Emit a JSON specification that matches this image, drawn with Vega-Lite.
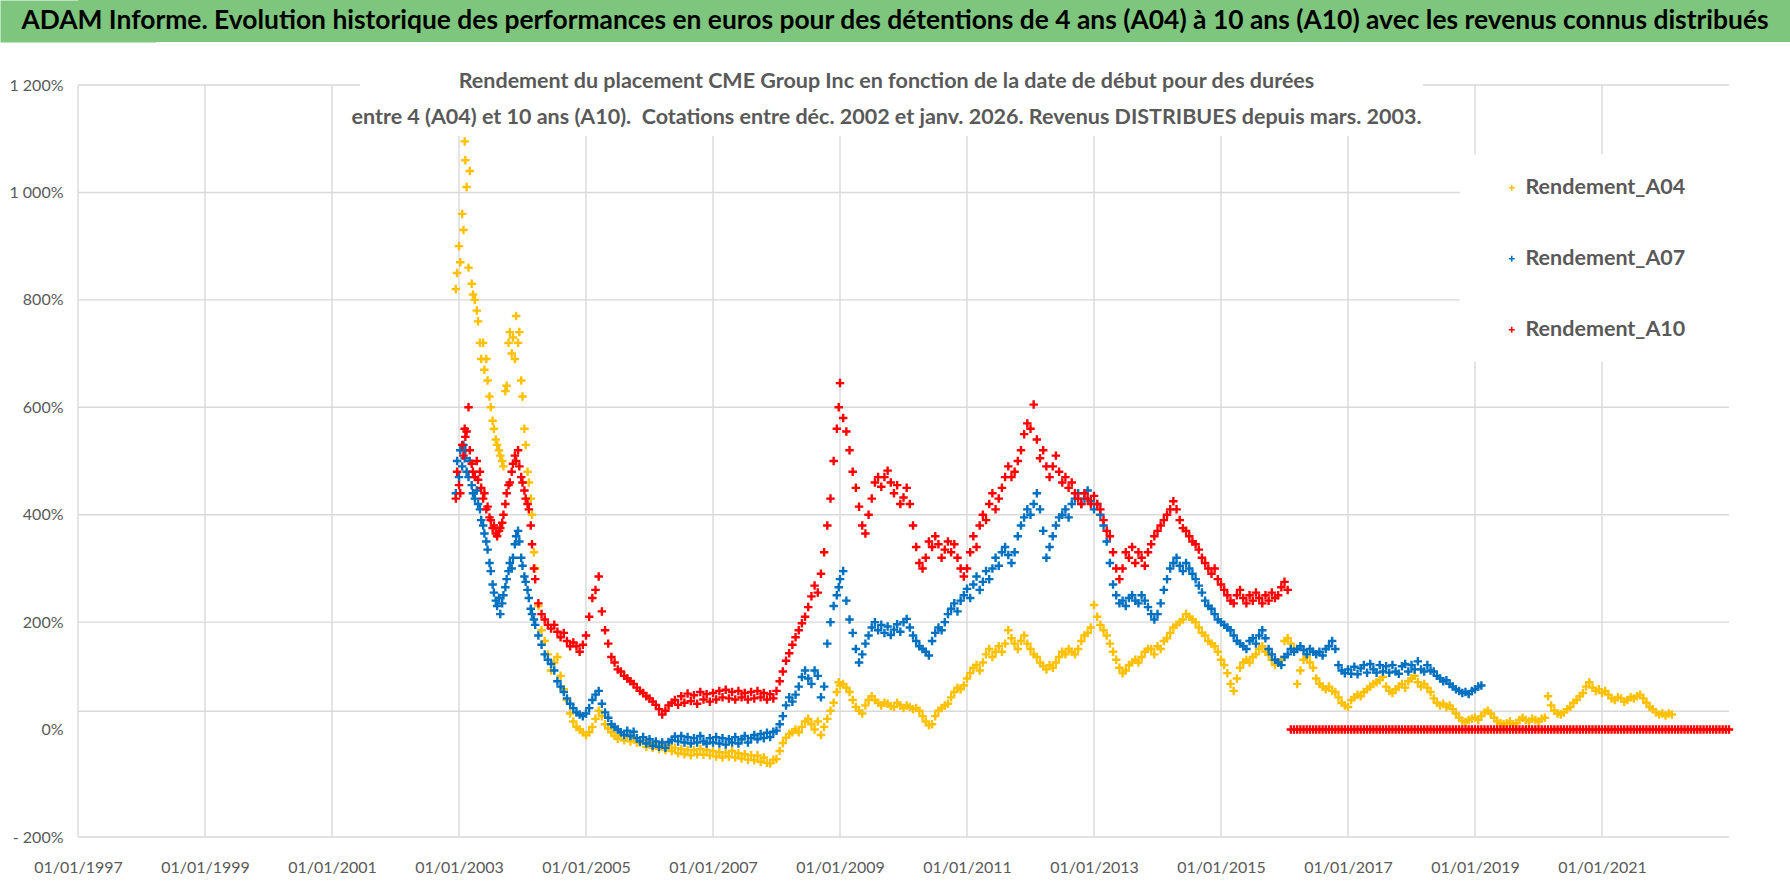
{
  "$schema": "https://vega.github.io/schema/vega-lite/v6.json",
  "background": "white",
  "padding": 0,
  "spacing": 28,
  "config": {"view": {"stroke": null}, "font": "Lato"},
  "datasets": {
    "grille": [
      {"annee": 1997, "annee2": 2001.44, "rendement": 1200, "rendement2": 1200},
      {"annee": 2018.18, "annee2": 2023, "rendement": 1200, "rendement2": 1200},
      {"annee": 1997, "annee2": 2018.76, "rendement": 1000, "rendement2": 1000},
      {"annee": 1997, "annee2": 2018.76, "rendement": 800, "rendement2": 800},
      {"annee": 1997, "annee2": 2023, "rendement": 600, "rendement2": 600},
      {"annee": 1997, "annee2": 2023, "rendement": 400, "rendement2": 400},
      {"annee": 1997, "annee2": 2023, "rendement": 200, "rendement2": 200},
      {"annee": 1997, "annee2": 2023, "rendement": 34, "rendement2": 34},
      {"annee": 1997, "annee2": 2023, "rendement": -200, "rendement2": -200},
      {"annee": 1997, "annee2": 1997, "rendement": -200, "rendement2": 1200},
      {"annee": 1999, "annee2": 1999, "rendement": -200, "rendement2": 1200},
      {"annee": 2001, "annee2": 2001, "rendement": -200, "rendement2": 1200},
      {"annee": 2003, "annee2": 2003, "rendement": -200, "rendement2": 1105},
      {"annee": 2005, "annee2": 2005, "rendement": -200, "rendement2": 1105},
      {"annee": 2007, "annee2": 2007, "rendement": -200, "rendement2": 1105},
      {"annee": 2009, "annee2": 2009, "rendement": -200, "rendement2": 1105},
      {"annee": 2011, "annee2": 2011, "rendement": -200, "rendement2": 1105},
      {"annee": 2013, "annee2": 2013, "rendement": -200, "rendement2": 1105},
      {"annee": 2015, "annee2": 2015, "rendement": -200, "rendement2": 1105},
      {"annee": 2017, "annee2": 2017, "rendement": -200, "rendement2": 1105},
      {"annee": 2019, "annee2": 2019, "rendement": -200, "rendement2": 685},
      {"annee": 2019, "annee2": 2019, "rendement": 1071, "rendement2": 1200},
      {"annee": 2021, "annee2": 2021, "rendement": -200, "rendement2": 685},
      {"annee": 2021, "annee2": 2021, "rendement": 1071, "rendement2": 1200}
    ],
    "rendements": [
      {"annee": 2002.95, "A04": 820, "A07": 440, "A10": 430},
      {"annee": 2002.97, "A04": 850, "A07": 500, "A10": 480},
      {"annee": 2003.00, "A04": 900, "A07": 470, "A10": 455},
      {"annee": 2003.02, "A04": 870, "A07": 520, "A10": 440},
      {"annee": 2003.05, "A04": 960, "A07": 490, "A10": 530},
      {"annee": 2003.07, "A04": 930, "A07": 530, "A10": 510},
      {"annee": 2003.09, "A04": 1095, "A07": 505, "A10": 560},
      {"annee": 2003.10, "A04": 1060, "A07": 520, "A10": 545},
      {"annee": 2003.12, "A04": 1010, "A07": 480, "A10": 555},
      {"annee": 2003.15, "A04": 860, "A07": 470, "A10": 600},
      {"annee": 2003.17, "A04": 1040, "A07": 500, "A10": 520},
      {"annee": 2003.20, "A04": 830, "A07": 455, "A10": 495},
      {"annee": 2003.22, "A04": 810, "A07": 440, "A10": 480},
      {"annee": 2003.25, "A04": 800, "A07": 430, "A10": 470},
      {"annee": 2003.28, "A04": 780, "A07": 445, "A10": 500},
      {"annee": 2003.30, "A04": 760, "A07": 420, "A10": 465},
      {"annee": 2003.33, "A04": 720, "A07": 410, "A10": 480},
      {"annee": 2003.35, "A04": 690, "A07": 390, "A10": 450},
      {"annee": 2003.38, "A04": 720, "A07": 380, "A10": 430},
      {"annee": 2003.40, "A04": 670, "A07": 365, "A10": 440},
      {"annee": 2003.43, "A04": 690, "A07": 350, "A10": 410},
      {"annee": 2003.45, "A04": 650, "A07": 335, "A10": 415},
      {"annee": 2003.48, "A04": 620, "A07": 310, "A10": 395},
      {"annee": 2003.50, "A04": 600, "A07": 295, "A10": 390},
      {"annee": 2003.53, "A04": 575, "A07": 270, "A10": 375},
      {"annee": 2003.55, "A04": 560, "A07": 255, "A10": 380},
      {"annee": 2003.58, "A04": 540, "A07": 240, "A10": 365},
      {"annee": 2003.60, "A04": 530, "A07": 230, "A10": 360},
      {"annee": 2003.63, "A04": 520, "A07": 245, "A10": 370},
      {"annee": 2003.65, "A04": 510, "A07": 215, "A10": 375},
      {"annee": 2003.68, "A04": 500, "A07": 235, "A10": 385},
      {"annee": 2003.70, "A04": 490, "A07": 250, "A10": 400},
      {"annee": 2003.73, "A04": 630, "A07": 265, "A10": 420},
      {"annee": 2003.75, "A04": 640, "A07": 280, "A10": 440},
      {"annee": 2003.78, "A04": 720, "A07": 295, "A10": 455},
      {"annee": 2003.80, "A04": 740, "A07": 310, "A10": 460},
      {"annee": 2003.83, "A04": 700, "A07": 300, "A10": 480},
      {"annee": 2003.85, "A04": 730, "A07": 320, "A10": 495},
      {"annee": 2003.88, "A04": 690, "A07": 345, "A10": 510},
      {"annee": 2003.90, "A04": 770, "A07": 360, "A10": 500},
      {"annee": 2003.93, "A04": 720, "A07": 370, "A10": 520},
      {"annee": 2003.95, "A04": 740, "A07": 350, "A10": 490},
      {"annee": 2003.98, "A04": 650, "A07": 320, "A10": 470},
      {"annee": 2004.00, "A04": 620, "A07": 305, "A10": 460},
      {"annee": 2004.03, "A04": 560, "A07": 285, "A10": 445},
      {"annee": 2004.05, "A04": 530, "A07": 275, "A10": 430},
      {"annee": 2004.08, "A04": 480, "A07": 260, "A10": 420},
      {"annee": 2004.10, "A04": 460, "A07": 245, "A10": 410},
      {"annee": 2004.13, "A04": 430, "A07": 225, "A10": 380},
      {"annee": 2004.15, "A04": 400, "A07": 215, "A10": 345},
      {"annee": 2004.18, "A04": 330, "A07": 205, "A10": 300},
      {"annee": 2004.20, "A04": 300, "A07": 195, "A10": 280},
      {"annee": 2004.25, "A04": 230, "A07": 175, "A10": 235},
      {"annee": 2004.30, "A04": 185, "A07": 158, "A10": 215},
      {"annee": 2004.35, "A04": 165, "A07": 140, "A10": 205},
      {"annee": 2004.40, "A04": 140, "A07": 130, "A10": 195},
      {"annee": 2004.45, "A04": 110, "A07": 122, "A10": 188},
      {"annee": 2004.50, "A04": 125, "A07": 110, "A10": 195},
      {"annee": 2004.55, "A04": 135, "A07": 90, "A10": 182},
      {"annee": 2004.60, "A04": 100, "A07": 80, "A10": 172},
      {"annee": 2004.65, "A04": 75, "A07": 70, "A10": 180},
      {"annee": 2004.70, "A04": 55, "A07": 58, "A10": 165},
      {"annee": 2004.75, "A04": 30, "A07": 48, "A10": 155},
      {"annee": 2004.80, "A04": 15, "A07": 40, "A10": 162},
      {"annee": 2004.85, "A04": 5, "A07": 32, "A10": 155},
      {"annee": 2004.90, "A04": 0, "A07": 28, "A10": 145},
      {"annee": 2004.95, "A04": -5, "A07": 25, "A10": 158},
      {"annee": 2005.00, "A04": -10, "A07": 30, "A10": 175},
      {"annee": 2005.05, "A04": -5, "A07": 40, "A10": 210},
      {"annee": 2005.10, "A04": 5, "A07": 55, "A10": 245},
      {"annee": 2005.15, "A04": 20, "A07": 65, "A10": 260},
      {"annee": 2005.20, "A04": 35, "A07": 72, "A10": 285},
      {"annee": 2005.25, "A04": 25, "A07": 48, "A10": 220},
      {"annee": 2005.30, "A04": 10, "A07": 32, "A10": 185},
      {"annee": 2005.35, "A04": 2, "A07": 22, "A10": 160},
      {"annee": 2005.40, "A04": -5, "A07": 10, "A10": 135},
      {"annee": 2005.45, "A04": -12, "A07": 5, "A10": 125},
      {"annee": 2005.50, "A04": -17, "A07": 0, "A10": 112},
      {"annee": 2005.55, "A04": -10, "A07": -5, "A10": 108},
      {"annee": 2005.60, "A04": -20, "A07": -10, "A10": 100},
      {"annee": 2005.65, "A04": -12, "A07": -2, "A10": 95},
      {"annee": 2005.70, "A04": -22, "A07": -12, "A10": 90},
      {"annee": 2005.75, "A04": -14, "A07": -4, "A10": 85},
      {"annee": 2005.80, "A04": -24, "A07": -16, "A10": 78},
      {"annee": 2005.85, "A04": -24, "A07": -22, "A10": 72},
      {"annee": 2005.90, "A04": -20, "A07": -14, "A10": 68},
      {"annee": 2005.95, "A04": -32, "A07": -26, "A10": 62},
      {"annee": 2006.00, "A04": -24, "A07": -18, "A10": 58},
      {"annee": 2006.05, "A04": -34, "A07": -30, "A10": 52},
      {"annee": 2006.10, "A04": -26, "A07": -22, "A10": 46},
      {"annee": 2006.15, "A04": -36, "A07": -32, "A10": 38},
      {"annee": 2006.20, "A04": -28, "A07": -24, "A10": 28},
      {"annee": 2006.25, "A04": -38, "A07": -34, "A10": 35},
      {"annee": 2006.30, "A04": -30, "A07": -23, "A10": 45},
      {"annee": 2006.35, "A04": -40, "A07": -20, "A10": 50},
      {"annee": 2006.40, "A04": -34, "A07": -13, "A10": 55},
      {"annee": 2006.45, "A04": -44, "A07": -22, "A10": 46},
      {"annee": 2006.50, "A04": -36, "A07": -12, "A10": 62},
      {"annee": 2006.55, "A04": -46, "A07": -24, "A10": 50},
      {"annee": 2006.60, "A04": -38, "A07": -14, "A10": 67},
      {"annee": 2006.65, "A04": -48, "A07": -26, "A10": 53},
      {"annee": 2006.70, "A04": -38, "A07": -16, "A10": 64},
      {"annee": 2006.75, "A04": -46, "A07": -24, "A10": 48},
      {"annee": 2006.80, "A04": -36, "A07": -12, "A10": 70},
      {"annee": 2006.85, "A04": -47, "A07": -22, "A10": 56},
      {"annee": 2006.90, "A04": -38, "A07": -26, "A10": 66},
      {"annee": 2006.95, "A04": -48, "A07": -16, "A10": 52},
      {"annee": 2007.00, "A04": -40, "A07": -24, "A10": 68},
      {"annee": 2007.05, "A04": -50, "A07": -14, "A10": 56},
      {"annee": 2007.10, "A04": -42, "A07": -26, "A10": 72},
      {"annee": 2007.15, "A04": -52, "A07": -16, "A10": 60},
      {"annee": 2007.20, "A04": -43, "A07": -28, "A10": 74},
      {"annee": 2007.25, "A04": -50, "A07": -18, "A10": 58},
      {"annee": 2007.30, "A04": -40, "A07": -24, "A10": 70},
      {"annee": 2007.35, "A04": -52, "A07": -14, "A10": 56},
      {"annee": 2007.40, "A04": -44, "A07": -26, "A10": 72},
      {"annee": 2007.45, "A04": -54, "A07": -18, "A10": 60},
      {"annee": 2007.50, "A04": -46, "A07": -12, "A10": 68},
      {"annee": 2007.55, "A04": -56, "A07": -24, "A10": 56},
      {"annee": 2007.60, "A04": -48, "A07": -16, "A10": 70},
      {"annee": 2007.65, "A04": -57, "A07": -10, "A10": 58},
      {"annee": 2007.70, "A04": -48, "A07": -18, "A10": 72},
      {"annee": 2007.75, "A04": -60, "A07": -8, "A10": 60},
      {"annee": 2007.80, "A04": -52, "A07": -16, "A10": 68},
      {"annee": 2007.85, "A04": -62, "A07": -6, "A10": 56},
      {"annee": 2007.90, "A04": -63, "A07": -14, "A10": 66},
      {"annee": 2007.95, "A04": -56, "A07": -4, "A10": 58},
      {"annee": 2008.00, "A04": -55, "A07": -2, "A10": 72},
      {"annee": 2008.05, "A04": -40, "A07": 10, "A10": 90},
      {"annee": 2008.10, "A04": -25, "A07": 25, "A10": 108},
      {"annee": 2008.15, "A04": -15, "A07": 45, "A10": 128},
      {"annee": 2008.20, "A04": -8, "A07": 60, "A10": 142},
      {"annee": 2008.25, "A04": -5, "A07": 52, "A10": 158},
      {"annee": 2008.30, "A04": 0, "A07": 65, "A10": 172},
      {"annee": 2008.35, "A04": -5, "A07": 80, "A10": 185},
      {"annee": 2008.40, "A04": 5, "A07": 98, "A10": 198},
      {"annee": 2008.45, "A04": 15, "A07": 110, "A10": 210},
      {"annee": 2008.50, "A04": 20, "A07": 95, "A10": 228},
      {"annee": 2008.55, "A04": 10, "A07": 85, "A10": 248},
      {"annee": 2008.60, "A04": 0, "A07": 110, "A10": 268},
      {"annee": 2008.65, "A04": 15, "A07": 100, "A10": 255},
      {"annee": 2008.70, "A04": -10, "A07": 60, "A10": 290},
      {"annee": 2008.75, "A04": 5, "A07": 80, "A10": 330},
      {"annee": 2008.80, "A04": 20, "A07": 160, "A10": 380},
      {"annee": 2008.85, "A04": 35, "A07": 200, "A10": 430},
      {"annee": 2008.90, "A04": 50, "A07": 230, "A10": 500},
      {"annee": 2008.95, "A04": 70, "A07": 250, "A10": 560},
      {"annee": 2008.98, "A04": 88, "A07": 265, "A10": 600},
      {"annee": 2009.00, "A04": 82, "A07": 280, "A10": 645},
      {"annee": 2009.05, "A04": 85, "A07": 295, "A10": 580},
      {"annee": 2009.10, "A04": 78, "A07": 240, "A10": 555},
      {"annee": 2009.15, "A04": 70, "A07": 205, "A10": 520},
      {"annee": 2009.20, "A04": 55, "A07": 180, "A10": 480},
      {"annee": 2009.25, "A04": 42, "A07": 150, "A10": 450},
      {"annee": 2009.30, "A04": 35, "A07": 125, "A10": 415},
      {"annee": 2009.35, "A04": 30, "A07": 140, "A10": 380},
      {"annee": 2009.40, "A04": 45, "A07": 160, "A10": 365},
      {"annee": 2009.45, "A04": 55, "A07": 175, "A10": 400},
      {"annee": 2009.50, "A04": 62, "A07": 190, "A10": 430},
      {"annee": 2009.55, "A04": 55, "A07": 200, "A10": 460},
      {"annee": 2009.60, "A04": 50, "A07": 185, "A10": 470},
      {"annee": 2009.65, "A04": 45, "A07": 195, "A10": 452},
      {"annee": 2009.70, "A04": 50, "A07": 180, "A10": 470},
      {"annee": 2009.75, "A04": 48, "A07": 192, "A10": 482},
      {"annee": 2009.80, "A04": 44, "A07": 176, "A10": 460},
      {"annee": 2009.85, "A04": 42, "A07": 186, "A10": 440},
      {"annee": 2009.90, "A04": 50, "A07": 196, "A10": 455},
      {"annee": 2009.95, "A04": 45, "A07": 182, "A10": 420},
      {"annee": 2010.00, "A04": 40, "A07": 200, "A10": 432},
      {"annee": 2010.05, "A04": 45, "A07": 206, "A10": 450},
      {"annee": 2010.10, "A04": 42, "A07": 190, "A10": 420},
      {"annee": 2010.15, "A04": 38, "A07": 175, "A10": 380},
      {"annee": 2010.20, "A04": 40, "A07": 165, "A10": 340},
      {"annee": 2010.25, "A04": 35, "A07": 155, "A10": 310},
      {"annee": 2010.30, "A04": 25, "A07": 150, "A10": 300},
      {"annee": 2010.35, "A04": 15, "A07": 145, "A10": 320},
      {"annee": 2010.40, "A04": 8, "A07": 138, "A10": 350},
      {"annee": 2010.45, "A04": 10, "A07": 165, "A10": 340},
      {"annee": 2010.50, "A04": 25, "A07": 180, "A10": 360},
      {"annee": 2010.55, "A04": 35, "A07": 190, "A10": 345},
      {"annee": 2010.60, "A04": 40, "A07": 185, "A10": 320},
      {"annee": 2010.65, "A04": 45, "A07": 200, "A10": 335},
      {"annee": 2010.70, "A04": 48, "A07": 215, "A10": 350},
      {"annee": 2010.75, "A04": 60, "A07": 225, "A10": 330},
      {"annee": 2010.80, "A04": 70, "A07": 235, "A10": 345},
      {"annee": 2010.85, "A04": 78, "A07": 220, "A10": 320},
      {"annee": 2010.90, "A04": 75, "A07": 240, "A10": 300},
      {"annee": 2010.95, "A04": 82, "A07": 250, "A10": 285},
      {"annee": 2011.00, "A04": 95, "A07": 262, "A10": 300},
      {"annee": 2011.05, "A04": 105, "A07": 245, "A10": 330},
      {"annee": 2011.10, "A04": 115, "A07": 270, "A10": 360},
      {"annee": 2011.15, "A04": 120, "A07": 285, "A10": 340},
      {"annee": 2011.20, "A04": 110, "A07": 260, "A10": 380},
      {"annee": 2011.25, "A04": 125, "A07": 275, "A10": 400},
      {"annee": 2011.30, "A04": 140, "A07": 295, "A10": 390},
      {"annee": 2011.35, "A04": 150, "A07": 280, "A10": 420},
      {"annee": 2011.40, "A04": 135, "A07": 300, "A10": 440},
      {"annee": 2011.45, "A04": 145, "A07": 320, "A10": 410},
      {"annee": 2011.50, "A04": 155, "A07": 305, "A10": 430},
      {"annee": 2011.55, "A04": 145, "A07": 330, "A10": 450},
      {"annee": 2011.60, "A04": 160, "A07": 340, "A10": 470},
      {"annee": 2011.65, "A04": 185, "A07": 325, "A10": 490},
      {"annee": 2011.70, "A04": 170, "A07": 310, "A10": 470},
      {"annee": 2011.75, "A04": 160, "A07": 330, "A10": 480},
      {"annee": 2011.80, "A04": 150, "A07": 360, "A10": 500},
      {"annee": 2011.85, "A04": 165, "A07": 380, "A10": 520},
      {"annee": 2011.90, "A04": 175, "A07": 395, "A10": 550},
      {"annee": 2011.95, "A04": 160, "A07": 410, "A10": 570},
      {"annee": 2012.00, "A04": 150, "A07": 400, "A10": 560},
      {"annee": 2012.05, "A04": 140, "A07": 420, "A10": 605},
      {"annee": 2012.10, "A04": 135, "A07": 440, "A10": 540},
      {"annee": 2012.15, "A04": 125, "A07": 410, "A10": 505},
      {"annee": 2012.20, "A04": 118, "A07": 370, "A10": 520},
      {"annee": 2012.25, "A04": 112, "A07": 320, "A10": 490},
      {"annee": 2012.30, "A04": 120, "A07": 340, "A10": 470},
      {"annee": 2012.35, "A04": 115, "A07": 360, "A10": 490},
      {"annee": 2012.40, "A04": 125, "A07": 380, "A10": 510},
      {"annee": 2012.45, "A04": 135, "A07": 395, "A10": 480},
      {"annee": 2012.50, "A04": 145, "A07": 400, "A10": 460},
      {"annee": 2012.55, "A04": 140, "A07": 410, "A10": 470},
      {"annee": 2012.60, "A04": 150, "A07": 395, "A10": 450},
      {"annee": 2012.65, "A04": 145, "A07": 420, "A10": 460},
      {"annee": 2012.70, "A04": 140, "A07": 430, "A10": 440},
      {"annee": 2012.75, "A04": 150, "A07": 440, "A10": 430},
      {"annee": 2012.80, "A04": 165, "A07": 420, "A10": 420},
      {"annee": 2012.85, "A04": 175, "A07": 430, "A10": 440},
      {"annee": 2012.90, "A04": 180, "A07": 445, "A10": 430},
      {"annee": 2012.95, "A04": 190, "A07": 425, "A10": 420},
      {"annee": 2013.00, "A04": 232, "A07": 410, "A10": 435},
      {"annee": 2013.05, "A04": 210, "A07": 420, "A10": 420},
      {"annee": 2013.10, "A04": 195, "A07": 400, "A10": 410},
      {"annee": 2013.15, "A04": 185, "A07": 380, "A10": 390},
      {"annee": 2013.20, "A04": 175, "A07": 350, "A10": 370},
      {"annee": 2013.25, "A04": 160, "A07": 310, "A10": 360},
      {"annee": 2013.30, "A04": 145, "A07": 270, "A10": 330},
      {"annee": 2013.35, "A04": 130, "A07": 250, "A10": 300},
      {"annee": 2013.40, "A04": 115, "A07": 235, "A10": 280},
      {"annee": 2013.45, "A04": 105, "A07": 240, "A10": 300},
      {"annee": 2013.50, "A04": 110, "A07": 230, "A10": 330},
      {"annee": 2013.55, "A04": 120, "A07": 245, "A10": 320},
      {"annee": 2013.60, "A04": 125, "A07": 250, "A10": 340},
      {"annee": 2013.65, "A04": 130, "A07": 240, "A10": 310},
      {"annee": 2013.70, "A04": 125, "A07": 235, "A10": 330},
      {"annee": 2013.75, "A04": 135, "A07": 250, "A10": 320},
      {"annee": 2013.80, "A04": 145, "A07": 240, "A10": 305},
      {"annee": 2013.85, "A04": 150, "A07": 228, "A10": 330},
      {"annee": 2013.90, "A04": 150, "A07": 215, "A10": 345},
      {"annee": 2013.95, "A04": 140, "A07": 205, "A10": 360},
      {"annee": 2014.00, "A04": 155, "A07": 215, "A10": 370},
      {"annee": 2014.05, "A04": 150, "A07": 235, "A10": 380},
      {"annee": 2014.10, "A04": 165, "A07": 260, "A10": 390},
      {"annee": 2014.15, "A04": 170, "A07": 280, "A10": 400},
      {"annee": 2014.20, "A04": 180, "A07": 300, "A10": 410},
      {"annee": 2014.25, "A04": 190, "A07": 310, "A10": 425},
      {"annee": 2014.30, "A04": 195, "A07": 320, "A10": 410},
      {"annee": 2014.35, "A04": 200, "A07": 305, "A10": 390},
      {"annee": 2014.40, "A04": 205, "A07": 295, "A10": 375},
      {"annee": 2014.45, "A04": 215, "A07": 310, "A10": 370},
      {"annee": 2014.50, "A04": 210, "A07": 300, "A10": 360},
      {"annee": 2014.55, "A04": 205, "A07": 290, "A10": 350},
      {"annee": 2014.60, "A04": 200, "A07": 280, "A10": 345},
      {"annee": 2014.65, "A04": 190, "A07": 268, "A10": 335},
      {"annee": 2014.70, "A04": 180, "A07": 255, "A10": 320},
      {"annee": 2014.75, "A04": 175, "A07": 240, "A10": 310},
      {"annee": 2014.80, "A04": 165, "A07": 230, "A10": 300},
      {"annee": 2014.85, "A04": 160, "A07": 225, "A10": 290},
      {"annee": 2014.90, "A04": 155, "A07": 215, "A10": 300},
      {"annee": 2014.95, "A04": 145, "A07": 205, "A10": 280},
      {"annee": 2015.00, "A04": 130, "A07": 200, "A10": 270},
      {"annee": 2015.05, "A04": 120, "A07": 195, "A10": 260},
      {"annee": 2015.10, "A04": 105, "A07": 190, "A10": 250},
      {"annee": 2015.15, "A04": 85, "A07": 185, "A10": 240},
      {"annee": 2015.20, "A04": 72, "A07": 175, "A10": 235},
      {"annee": 2015.25, "A04": 95, "A07": 165, "A10": 250},
      {"annee": 2015.30, "A04": 115, "A07": 160, "A10": 260},
      {"annee": 2015.35, "A04": 125, "A07": 155, "A10": 245},
      {"annee": 2015.40, "A04": 130, "A07": 150, "A10": 235},
      {"annee": 2015.45, "A04": 125, "A07": 165, "A10": 250},
      {"annee": 2015.50, "A04": 135, "A07": 170, "A10": 240},
      {"annee": 2015.55, "A04": 140, "A07": 160, "A10": 255},
      {"annee": 2015.60, "A04": 150, "A07": 175, "A10": 245},
      {"annee": 2015.65, "A04": 155, "A07": 185, "A10": 235},
      {"annee": 2015.70, "A04": 145, "A07": 170, "A10": 250},
      {"annee": 2015.75, "A04": 140, "A07": 150, "A10": 240},
      {"annee": 2015.80, "A04": 130, "A07": 140, "A10": 255},
      {"annee": 2015.85, "A04": 120, "A07": 130, "A10": 245},
      {"annee": 2015.90, "A04": 125, "A07": 125, "A10": 250},
      {"annee": 2015.95, "A04": 130, "A07": 120, "A10": 265},
      {"annee": 2016.00, "A04": 165, "A07": 135, "A10": 275},
      {"annee": 2016.05, "A04": 170, "A07": 140, "A10": 260},
      {"annee": 2016.10, "A04": 160, "A07": 150, "A10": 0},
      {"annee": 2016.15, "A04": 150, "A07": 145, "A10": 0},
      {"annee": 2016.20, "A04": 85, "A07": 150, "A10": 0},
      {"annee": 2016.25, "A04": 110, "A07": 155, "A10": 0},
      {"annee": 2016.30, "A04": 130, "A07": 148, "A10": 0},
      {"annee": 2016.35, "A04": 135, "A07": 140, "A10": 0},
      {"annee": 2016.40, "A04": 125, "A07": 150, "A10": 0},
      {"annee": 2016.45, "A04": 115, "A07": 145, "A10": 0},
      {"annee": 2016.50, "A04": 95, "A07": 140, "A10": 0},
      {"annee": 2016.55, "A04": 85, "A07": 145, "A10": 0},
      {"annee": 2016.60, "A04": 80, "A07": 138, "A10": 0},
      {"annee": 2016.65, "A04": 75, "A07": 150, "A10": 0},
      {"annee": 2016.70, "A04": 80, "A07": 155, "A10": 0},
      {"annee": 2016.75, "A04": 72, "A07": 165, "A10": 0},
      {"annee": 2016.80, "A04": 70, "A07": 150, "A10": 0},
      {"annee": 2016.85, "A04": 60, "A07": 120, "A10": 0},
      {"annee": 2016.90, "A04": 50, "A07": 110, "A10": 0},
      {"annee": 2016.95, "A04": 45, "A07": 105, "A10": 0},
      {"annee": 2017.00, "A04": 42, "A07": 112, "A10": 0},
      {"annee": 2017.05, "A04": 55, "A07": 104, "A10": 0},
      {"annee": 2017.10, "A04": 60, "A07": 117, "A10": 0},
      {"annee": 2017.15, "A04": 65, "A07": 103, "A10": 0},
      {"annee": 2017.20, "A04": 62, "A07": 114, "A10": 0},
      {"annee": 2017.25, "A04": 70, "A07": 120, "A10": 0},
      {"annee": 2017.30, "A04": 75, "A07": 106, "A10": 0},
      {"annee": 2017.35, "A04": 80, "A07": 122, "A10": 0},
      {"annee": 2017.40, "A04": 85, "A07": 112, "A10": 0},
      {"annee": 2017.45, "A04": 88, "A07": 106, "A10": 0},
      {"annee": 2017.50, "A04": 92, "A07": 120, "A10": 0},
      {"annee": 2017.55, "A04": 98, "A07": 108, "A10": 0},
      {"annee": 2017.60, "A04": 80, "A07": 118, "A10": 0},
      {"annee": 2017.65, "A04": 72, "A07": 106, "A10": 0},
      {"annee": 2017.70, "A04": 68, "A07": 120, "A10": 0},
      {"annee": 2017.75, "A04": 75, "A07": 108, "A10": 0},
      {"annee": 2017.80, "A04": 80, "A07": 104, "A10": 0},
      {"annee": 2017.85, "A04": 85, "A07": 118, "A10": 0},
      {"annee": 2017.90, "A04": 78, "A07": 122, "A10": 0},
      {"annee": 2017.95, "A04": 90, "A07": 108, "A10": 0},
      {"annee": 2018.00, "A04": 95, "A07": 120, "A10": 0},
      {"annee": 2018.05, "A04": 100, "A07": 112, "A10": 0},
      {"annee": 2018.10, "A04": 88, "A07": 127, "A10": 0},
      {"annee": 2018.15, "A04": 80, "A07": 112, "A10": 0},
      {"annee": 2018.20, "A04": 85, "A07": 108, "A10": 0},
      {"annee": 2018.25, "A04": 78, "A07": 120, "A10": 0},
      {"annee": 2018.30, "A04": 70, "A07": 110, "A10": 0},
      {"annee": 2018.35, "A04": 58, "A07": 108, "A10": 0},
      {"annee": 2018.40, "A04": 50, "A07": 100, "A10": 0},
      {"annee": 2018.45, "A04": 45, "A07": 95, "A10": 0},
      {"annee": 2018.50, "A04": 48, "A07": 90, "A10": 0},
      {"annee": 2018.55, "A04": 42, "A07": 92, "A10": 0},
      {"annee": 2018.60, "A04": 45, "A07": 85, "A10": 0},
      {"annee": 2018.65, "A04": 38, "A07": 80, "A10": 0},
      {"annee": 2018.70, "A04": 30, "A07": 75, "A10": 0},
      {"annee": 2018.75, "A04": 22, "A07": 72, "A10": 0},
      {"annee": 2018.80, "A04": 16, "A07": 68, "A10": 0},
      {"annee": 2018.85, "A04": 14, "A07": 70, "A10": 0},
      {"annee": 2018.90, "A04": 18, "A07": 66, "A10": 0},
      {"annee": 2018.95, "A04": 20, "A07": 72, "A10": 0},
      {"annee": 2019.00, "A04": 22, "A07": 75, "A10": 0},
      {"annee": 2019.05, "A04": 18, "A07": 80, "A10": 0},
      {"annee": 2019.10, "A04": 25, "A07": 82, "A10": 0},
      {"annee": 2019.15, "A04": 32, "A10": 0},
      {"annee": 2019.20, "A04": 35, "A10": 0},
      {"annee": 2019.25, "A04": 30, "A10": 0},
      {"annee": 2019.30, "A04": 22, "A10": 0},
      {"annee": 2019.35, "A04": 15, "A10": 0},
      {"annee": 2019.40, "A04": 12, "A10": 0},
      {"annee": 2019.45, "A04": 10, "A10": 0},
      {"annee": 2019.50, "A04": 12, "A10": 0},
      {"annee": 2019.55, "A04": 15, "A10": 0},
      {"annee": 2019.60, "A04": 10, "A10": 0},
      {"annee": 2019.65, "A04": 12, "A10": 0},
      {"annee": 2019.70, "A04": 18, "A10": 0},
      {"annee": 2019.75, "A04": 22, "A10": 0},
      {"annee": 2019.80, "A04": 18, "A10": 0},
      {"annee": 2019.85, "A04": 15, "A10": 0},
      {"annee": 2019.90, "A04": 20, "A10": 0},
      {"annee": 2019.95, "A04": 18, "A10": 0},
      {"annee": 2020.00, "A04": 15, "A10": 0},
      {"annee": 2020.05, "A04": 20, "A10": 0},
      {"annee": 2020.10, "A04": 22, "A10": 0},
      {"annee": 2020.15, "A04": 62, "A10": 0},
      {"annee": 2020.20, "A04": 45, "A10": 0},
      {"annee": 2020.25, "A04": 35, "A10": 0},
      {"annee": 2020.30, "A04": 30, "A10": 0},
      {"annee": 2020.35, "A04": 28, "A10": 0},
      {"annee": 2020.40, "A04": 32, "A10": 0},
      {"annee": 2020.45, "A04": 38, "A10": 0},
      {"annee": 2020.50, "A04": 42, "A10": 0},
      {"annee": 2020.55, "A04": 50, "A10": 0},
      {"annee": 2020.60, "A04": 55, "A10": 0},
      {"annee": 2020.65, "A04": 62, "A10": 0},
      {"annee": 2020.70, "A04": 68, "A10": 0},
      {"annee": 2020.75, "A04": 80, "A10": 0},
      {"annee": 2020.80, "A04": 88, "A10": 0},
      {"annee": 2020.85, "A04": 78, "A10": 0},
      {"annee": 2020.90, "A04": 72, "A10": 0},
      {"annee": 2020.95, "A04": 75, "A10": 0},
      {"annee": 2021.00, "A04": 68, "A10": 0},
      {"annee": 2021.05, "A04": 72, "A10": 0},
      {"annee": 2021.10, "A04": 65, "A10": 0},
      {"annee": 2021.15, "A04": 58, "A10": 0},
      {"annee": 2021.20, "A04": 55, "A10": 0},
      {"annee": 2021.25, "A04": 60, "A10": 0},
      {"annee": 2021.30, "A04": 58, "A10": 0},
      {"annee": 2021.35, "A04": 52, "A10": 0},
      {"annee": 2021.40, "A04": 55, "A10": 0},
      {"annee": 2021.45, "A04": 60, "A10": 0},
      {"annee": 2021.50, "A04": 58, "A10": 0},
      {"annee": 2021.55, "A04": 62, "A10": 0},
      {"annee": 2021.60, "A04": 65, "A10": 0},
      {"annee": 2021.65, "A04": 58, "A10": 0},
      {"annee": 2021.70, "A04": 50, "A10": 0},
      {"annee": 2021.75, "A04": 42, "A10": 0},
      {"annee": 2021.80, "A04": 38, "A10": 0},
      {"annee": 2021.85, "A04": 32, "A10": 0},
      {"annee": 2021.90, "A04": 28, "A10": 0},
      {"annee": 2021.95, "A04": 30, "A10": 0},
      {"annee": 2022.00, "A04": 26, "A10": 0},
      {"annee": 2022.05, "A04": 30, "A10": 0},
      {"annee": 2022.10, "A04": 28, "A10": 0},
      {"annee": 2022.15, "A10": 0},
      {"annee": 2022.20, "A10": 0},
      {"annee": 2022.25, "A10": 0},
      {"annee": 2022.30, "A10": 0},
      {"annee": 2022.35, "A10": 0},
      {"annee": 2022.40, "A10": 0},
      {"annee": 2022.45, "A10": 0},
      {"annee": 2022.50, "A10": 0},
      {"annee": 2022.55, "A10": 0},
      {"annee": 2022.60, "A10": 0},
      {"annee": 2022.65, "A10": 0},
      {"annee": 2022.70, "A10": 0},
      {"annee": 2022.75, "A10": 0},
      {"annee": 2022.80, "A10": 0},
      {"annee": 2022.85, "A10": 0},
      {"annee": 2022.90, "A10": 0},
      {"annee": 2022.95, "A10": 0},
      {"annee": 2023.00, "A10": 0}
    ]
  },
  "vconcat": [
    {
      "width": 1712,
      "height": 42,
      "view": {"fill": "#7EC67E", "stroke": null},
      "data": {"values": [{"titre": "ADAM Informe. Evolution historique des performances en euros pour des détentions de 4 ans (A04) à 10 ans (A10) avec les revenus connus distribués"}]},
      "mark": {"type": "text", "font": "Lato", "fontWeight": "bold", "fontSize": 26.4, "color": "#000000", "dx": -39},
      "encoding": {
        "text": {"field": "titre", "type": "nominal"},
        "y": {
          "field": "titre",
          "type": "nominal",
          "axis": {
            "title": null,
            "labels": false,
            "ticks": false,
            "grid": false,
            "domain": true,
            "domainColor": "#7EC67E",
            "domainWidth": 156,
            "domainCap": "butt",
            "minExtent": 78,
            "maxExtent": 78
          }
        }
      }
    },
    {
      "width": 1651,
      "height": 752,
      "title": {
        "text": ["Rendement du placement CME Group Inc en fonction de la date de début pour des durées", "entre 4 (A04) et 10 ans (A10).\u00a0 Cotations entre déc. 2002 et janv. 2026. Revenus DISTRIBUES depuis mars. 2003."],
        "orient": "top",
        "anchor": "middle",
        "frame": "group",
        "baseline": "top",
        "offset": -51,
        "dx": -17,
        "font": "Lato",
        "fontSize": 21.5,
        "fontWeight": "bold",
        "color": "#595959",
        "lineHeight": 36
      },
      "encoding": {
        "x": {
          "field": "annee",
          "type": "quantitative",
          "scale": {"domain": [1997, 2023], "nice": false, "zero": false},
          "axis": {
            "values": [1997, 1999, 2001, 2003, 2005, 2007, 2009, 2011, 2013, 2015, 2017, 2019, 2021],
            "labelExpr": "'01/01/' + datum.value",
            "title": null,
            "grid": false,
            "domain": false,
            "ticks": false,
            "tickSize": 0,
            "labelPadding": 22,
            "labelFont": "Lato",
            "labelFontSize": 16,
            "labelColor": "#595959",
            "labelFlush": false,
            "labelOverlap": false
          }
        },
        "y": {
          "field": "rendement",
          "type": "quantitative",
          "scale": {"domain": [-200, 1200], "nice": false, "zero": false},
          "axis": {
            "values": [-200, 0, 200, 400, 600, 800, 1000, 1200],
            "labelExpr": "datum.value >= 1000 ? '1 ' + format(datum.value - 1000, '03d') + '%' : (datum.value < 0 ? '- ' + format(-datum.value, 'd') + '%' : format(datum.value, 'd') + '%')",
            "title": null,
            "grid": false,
            "domain": false,
            "ticks": false,
            "tickSize": 0,
            "labelPadding": 15,
            "labelFont": "Lato",
            "labelFontSize": 16,
            "labelColor": "#595959",
            "minExtent": 78,
            "maxExtent": 78
          }
        }
      },
      "layer": [
        {
          "data": {"name": "grille"},
          "mark": {"type": "rule", "color": "#D9D9D9", "strokeWidth": 1.4},
          "encoding": {
            "x2": {"field": "annee2"},
            "y2": {"field": "rendement2"}
          }
        },
        {
          "data": {"name": "rendements"},
          "transform": [
            {"fold": ["A04", "A07", "A10"], "as": ["serie", "rendement"]},
            {"filter": "isValid(datum.rendement)"}
          ],
          "mark": {"type": "point", "shape": "M-1,0L1,0M0,-1L0,1", "filled": false, "size": 72, "strokeWidth": 2.4, "opacity": 1},
          "encoding": {
            "color": {
              "field": "serie",
              "type": "nominal",
              "scale": {"domain": ["A04", "A07", "A10"], "range": ["#FFC000", "#0070C0", "#FF0000"]},
              "legend": {
                "orient": "none",
                "legendX": 1423,
                "legendY": 177,
                "title": null,
                "labelExpr": "'Rendement_' + datum.label",
                "labelFont": "Lato",
                "labelFontWeight": "bold",
                "labelFontSize": 21.5,
                "labelColor": "#595959",
                "labelLimit": 400,
                "labelOffset": 3,
                "symbolType": "M-1,0L1,0M0,-1L0,1",
                "symbolSize": 36,
                "symbolStrokeWidth": 1.5,
                "rowPadding": 48,
                "padding": 0
              }
            },
            "order": {"field": "serie", "type": "ordinal"}
          }
        }
      ]
    }
  ]
}
